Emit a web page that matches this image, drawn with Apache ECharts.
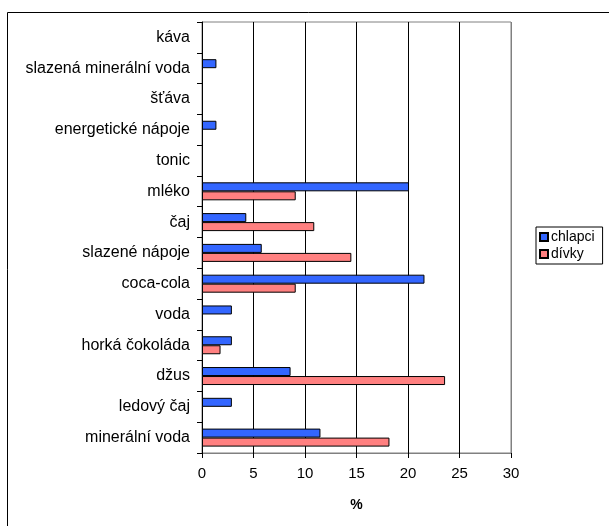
<!DOCTYPE html>
<html>
<head>
<meta charset="utf-8">
<script src="https://cdn.jsdelivr.net/npm/echarts@6/dist/echarts.min.js"></script>
<style>
  html, body { margin: 0; padding: 0; background: #fff; }
  #chart { width: 609px; height: 526px; }
</style>
</head>
<body>
<div id="chart"></div>
<script>
// categories listed bottom -> top (as on the y axis)
var napoje = [
  "minerální voda", "ledový čaj", "džus", "horká čokoláda", "voda",
  "coca-cola", "slazené nápoje", "čaj", "mléko", "tonic",
  "energetické nápoje", "šťáva", "slazená minerální voda", "káva"
];
var chlapci = [11.5, 2.9, 8.6, 2.9, 2.9, 21.6, 5.8, 4.3, 20.1, 0, 1.4, 0, 1.4, 0];
var divky = [18.2, 0, 23.6, 1.8, 0, 9.1, 14.5, 10.9, 9.1, 0, 0, 0, 0, 0];
var osaX = [0, 5, 10, 15, 20, 25, 30];

var font = "Liberation Sans, Arial, sans-serif";
var myChart = echarts.init(document.getElementById("chart"));

// nulove hodnoty se nekresli (jinak zustane jen ramecek)
function bezNul(arr) {
  return arr.map(function (v) { return v === 0 ? "-" : v; });
}

var option = {
  animation: false,
  graphic: [
    {
      type: "rect",
      shape: { x: 7.5, y: 12.5, width: 700, height: 600 },
      style: { fill: "none", stroke: "#000", lineWidth: 1 },
    },
  ],
  legend: {
    orient: "vertical",
    left: 536,
    top: 227,
    icon: "rect",
    itemWidth: 8,
    itemHeight: 8,
    itemGap: 3,
    padding: [3, 8, 3, 3],
    borderColor: "#000",
    borderWidth: 1,
    textStyle: { fontFamily: font, fontSize: 14, color: "#000", padding: [0, 0, 0, -2] },
    data: ["chlapci", "dívky"],
  },
  grid: {
    left: 202,
    right: 98,
    top: 22,
    bottom: 73,
    show: true,
    borderColor: "#808080",
    borderWidth: 1,
  },
  xAxis: {
    type: "value",
    min: osaX[0],
    max: osaX[osaX.length - 1],
    interval: 5,
    name: "%",
    nameLocation: "middle",
    nameGap: 45,
    nameTextStyle: { fontFamily: font, fontSize: 14, fontWeight: "bold", color: "#000" },
    axisLine: { show: true, lineStyle: { color: "#808080" } },
    axisTick: { show: true, length: 5, lineStyle: { color: "#000" } },
    axisLabel: { fontFamily: font, fontSize: 15, color: "#000", margin: 13 },
    splitLine: { show: true, lineStyle: { color: ["#000", "#000", "#000", "#000", "#000", "#000", "#808080"] } },
  },
  yAxis: {
    type: "category",
    data: napoje,
    axisLine: { show: true, lineStyle: { color: "#000" } },
    axisTick: { show: true, length: 5, lineStyle: { color: "#000" } },
    axisLabel: { fontFamily: font, fontSize: 16, color: "#000", margin: 12 },
    splitLine: { show: false },
  },
  series: [
    {
      name: "chlapci",
      type: "bar",
      barWidth: 9,
      barGap: "0%",
      itemStyle: { color: "#3366ff", borderColor: "#000", borderWidth: 1 },
      data: bezNul(chlapci),
    },
    {
      name: "dívky",
      type: "bar",
      barWidth: 9,
      barGap: "0%",
      itemStyle: { color: "#ff8080", borderColor: "#000", borderWidth: 1 },
      data: bezNul(divky),
    },
  ],
};

myChart.setOption(option);
</script>
</body>
</html>
